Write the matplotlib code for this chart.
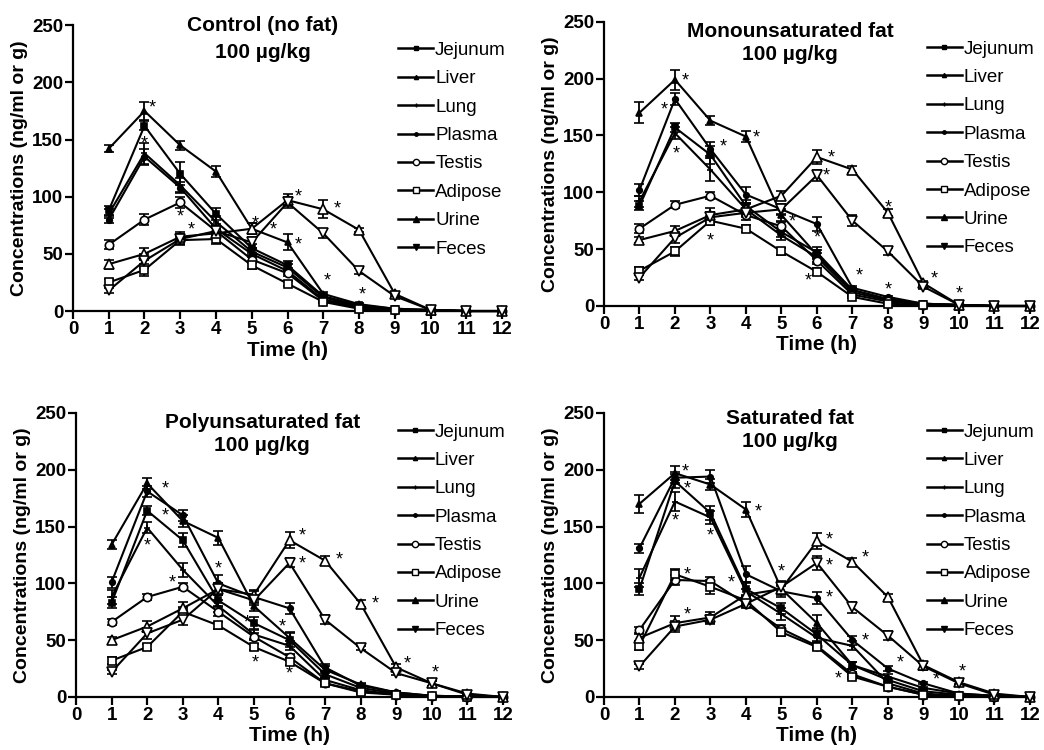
import matplotlib
matplotlib.use("Agg")
import matplotlib.pyplot as plt
from matplotlib.lines import Line2D

plt.rcParams['font.family'] = ['Liberation Sans', 'DejaVu Sans']

time_h = [1, 2, 3, 4, 5, 6, 7, 8, 9, 10, 11, 12]
x_ticks = [0, 1, 2, 3, 4, 5, 6, 7, 8, 9, 10, 11, 12]
y_ticks = [0, 50, 100, 150, 200, 250]
series_names = ["Jejunum", "Liver", "Lung", "Plasma", "Testis", "Adipose", "Urine", "Feces"]
panel_titles = [("Control (no fat)", "100 \u00b5g/kg"), ("Monounsaturated fat", "100 \u00b5g/kg"),
                ("Polyunsaturated fat", "100 \u00b5g/kg"), ("Saturated fat", "100 \u00b5g/kg")]

# ---- Control ----
control_jejunum = [88, 162, 120, 85, 55, 40, 13, 5, 2, 1, 0, 0]
control_liver = [142, 175, 145, 122, 72, 60, 15, 6, 2, 1, 0, 0]
control_lung = [85, 138, 110, 78, 52, 38, 12, 4, 1, 0.5, 0, 0]
control_plasma = [80, 135, 108, 72, 50, 35, 10, 4, 1, 0.5, 0, 0]
control_testis = [58, 80, 95, 70, 45, 33, 9, 3, 1, 0.5, 0, 0]
control_adipose = [25, 36, 62, 63, 40, 24, 8, 2, 1, 0, 0, 0]
control_urine = [41, 50, 65, 68, 72, 97, 89, 71, 15, 1, 0, 0]
control_feces = [18, 44, 63, 70, 60, 95, 68, 35, 13, 1, 0, 0]
control_err = [
    [4, 4, 10, 5, 4, 4, 2, 1, 1, 0, 0, 0],
    [3, 8, 4, 5, 5, 7, 2, 1, 0, 0, 0, 0],
    [4, 9, 6, 5, 3, 3, 2, 1, 0, 0, 0, 0],
    [3, 7, 5, 4, 3, 3, 2, 1, 0, 0, 0, 0],
    [4, 5, 5, 3, 3, 2, 1, 1, 0, 0, 0, 0],
    [3, 5, 4, 4, 3, 2, 1, 1, 0, 0, 0, 0],
    [4, 5, 4, 5, 5, 5, 8, 2, 2, 0, 0, 0],
    [2, 6, 4, 4, 5, 5, 4, 3, 2, 0, 0, 0],
]
control_stars = [(2.22, 178), (2.0, 146), (3.0, 82), (3.32, 71), (5.1, 76), (5.6, 71),
                 (6.3, 100), (6.3, 58), (7.4, 89), (7.1, 26), (8.1, 14)]

# ---- Monounsaturated ----
mono_jejunum = [88, 157, 133, 88, 65, 47, 14, 6, 2, 1, 0, 0]
mono_liver = [170, 199, 163, 149, 80, 45, 14, 6, 2, 1, 0, 0]
mono_lung = [92, 152, 120, 85, 62, 43, 12, 5, 1, 0.5, 0, 0]
mono_plasma = [102, 182, 138, 98, 85, 72, 16, 8, 2, 1, 0, 0]
mono_testis = [68, 89, 97, 80, 70, 40, 10, 4, 1, 0.5, 0, 0]
mono_adipose = [31, 48, 75, 68, 48, 30, 8, 2, 1, 0, 0, 0]
mono_urine = [58, 66, 80, 85, 97, 131, 120, 82, 20, 1, 0, 0]
mono_feces = [25, 60, 78, 82, 85, 115, 75, 48, 17, 1, 0, 0]
mono_err = [
    [4, 4, 8, 5, 4, 5, 2, 1, 0, 0, 0, 0],
    [9, 9, 4, 5, 5, 4, 2, 1, 0, 0, 0, 0],
    [5, 5, 10, 6, 4, 4, 2, 1, 0, 0, 0, 0],
    [5, 5, 6, 7, 5, 6, 2, 1, 0, 0, 0, 0],
    [4, 3, 3, 4, 4, 3, 1, 1, 0, 0, 0, 0],
    [3, 4, 4, 3, 3, 3, 1, 1, 0, 0, 0, 0],
    [3, 4, 6, 5, 4, 6, 3, 3, 2, 0, 0, 0],
    [2, 5, 5, 4, 4, 5, 5, 3, 2, 0, 0, 0],
]
mono_stars = [(2.3, 198), (1.7, 172), (2.05, 134), (3.35, 140), (4.3, 148), (5.3, 74),
              (6.4, 130), (6.25, 114), (6.0, 60), (5.75, 22), (3.0, 57), (7.2, 26),
              (8.0, 14), (9.3, 24), (10.0, 11), (8.0, 86)]

# ---- Polyunsaturated ----
poly_jejunum = [83, 164, 138, 85, 65, 50, 20, 8, 3, 1, 0.5, 0]
poly_liver = [134, 188, 155, 140, 80, 52, 24, 11, 4, 1, 0.5, 0]
poly_lung = [88, 149, 112, 80, 55, 45, 15, 6, 2, 1, 0, 0]
poly_plasma = [101, 181, 160, 100, 88, 78, 26, 10, 4, 1, 0.5, 0]
poly_testis = [66, 88, 97, 75, 53, 35, 12, 5, 2, 1, 0, 0]
poly_adipose = [32, 44, 75, 63, 44, 31, 12, 4, 2, 1, 0, 0]
poly_urine = [50, 62, 78, 95, 90, 138, 120, 82, 26, 12, 3, 0]
poly_feces = [22, 56, 68, 95, 85, 118, 68, 43, 21, 12, 2, 0]
poly_err = [
    [5, 4, 6, 5, 5, 6, 3, 1, 1, 0, 0, 0],
    [4, 5, 5, 6, 4, 5, 3, 1, 1, 0, 0, 0],
    [6, 5, 6, 5, 4, 4, 2, 1, 0, 0, 0, 0],
    [5, 5, 5, 7, 5, 5, 3, 1, 1, 0, 0, 0],
    [3, 3, 3, 4, 3, 3, 1, 1, 0, 0, 0, 0],
    [3, 3, 4, 3, 3, 3, 2, 1, 0, 0, 0, 0],
    [3, 5, 6, 5, 4, 7, 4, 3, 3, 2, 0, 0],
    [2, 5, 5, 5, 4, 4, 4, 2, 2, 2, 0, 0],
]
poly_stars = [(2.5, 183), (2.5, 159), (2.0, 133), (2.7, 100), (4.0, 113), (4.8, 65),
              (5.05, 30), (5.8, 62), (6.0, 20), (6.35, 142), (6.35, 117), (7.4, 121),
              (8.4, 82), (9.3, 29), (10.1, 21)]

# ---- Saturated ----
sat_jejunum = [95, 190, 162, 95, 78, 55, 28, 15, 5, 2, 1, 0]
sat_liver = [170, 197, 187, 165, 95, 65, 28, 18, 8, 3, 1, 0]
sat_lung = [105, 172, 158, 93, 73, 52, 45, 12, 3, 1, 0.5, 0]
sat_plasma = [131, 193, 194, 108, 93, 87, 50, 25, 12, 3, 1, 0]
sat_testis = [59, 103, 102, 82, 60, 45, 20, 9, 2, 1, 0, 0]
sat_adipose = [45, 108, 97, 85, 57, 44, 18, 9, 2, 1, 0, 0]
sat_urine = [52, 65, 70, 90, 95, 137, 119, 88, 28, 13, 3, 0]
sat_feces = [27, 62, 68, 82, 97, 118, 79, 54, 27, 12, 2, 0]
sat_err = [
    [5, 6, 6, 5, 5, 6, 3, 2, 1, 0, 0, 0],
    [8, 6, 5, 7, 5, 7, 3, 2, 1, 0, 0, 0],
    [8, 8, 6, 8, 5, 8, 4, 2, 1, 0, 0, 0],
    [4, 5, 6, 7, 5, 5, 4, 2, 1, 0, 0, 0],
    [3, 4, 4, 3, 3, 3, 2, 1, 0, 0, 0, 0],
    [4, 5, 6, 4, 3, 3, 2, 1, 0, 0, 0, 0],
    [3, 6, 5, 5, 4, 7, 3, 3, 3, 2, 0, 0],
    [2, 5, 4, 4, 5, 6, 5, 4, 3, 2, 0, 0],
]
sat_stars = [(2.3, 198), (2.35, 183), (2.0, 155), (3.0, 142), (2.35, 107), (3.6, 100),
             (2.35, 72), (4.35, 163), (5.0, 110), (6.35, 138), (6.35, 115), (6.35, 87),
             (7.35, 122), (7.35, 49), (8.35, 30), (9.35, 15), (6.6, 16), (10.1, 22)]

panels = [
    ([control_jejunum, control_liver, control_lung, control_plasma, control_testis,
      control_adipose, control_urine, control_feces], control_err, control_stars),
    ([mono_jejunum, mono_liver, mono_lung, mono_plasma, mono_testis,
      mono_adipose, mono_urine, mono_feces], mono_err, mono_stars),
    ([poly_jejunum, poly_liver, poly_lung, poly_plasma, poly_testis,
      poly_adipose, poly_urine, poly_feces], poly_err, poly_stars),
    ([sat_jejunum, sat_liver, sat_lung, sat_plasma, sat_testis,
      sat_adipose, sat_urine, sat_feces], sat_err, sat_stars),
]

plot_styles = [('s', 4, 'k'), ('^', 4, 'k'), ('+', 4, 'k'), ('o', 4, 'k'),
               ('o', 6, 'white'), ('s', 6, 'white'), ('^', 7, 'white'), ('v', 7, 'white')]
legend_styles = [('s', 3, 'k'), ('^', 3, 'k'), ('+', 3, 'k'), ('o', 2.5, 'k'),
                 ('o', 4.5, 'white'), ('s', 4.5, 'white'), ('^', 4.5, 'k'), ('v', 4.5, 'k')]

axes_pos = [
    [0.0699, 0.5853, 0.411, 0.381],
    [0.5785, 0.592, 0.408, 0.379],
    [0.0728, 0.0707, 0.409, 0.3787],
    [0.5785, 0.0707, 0.408, 0.3787],
]
title_x = [0.443, 0.437, 0.436, 0.437]
title_y = [(1.0, 0.906), (0.965, 0.884), (0.968, 0.887), (0.982, 0.898)]
legend_anchor = [(0.758, 0.942), (0.758, 0.934), (0.754, 0.963), (0.758, 0.963)]

fig = plt.figure(figsize=(10.44, 7.5), dpi=100)

for i, (data, errs, stars) in enumerate(panels):
    ax = fig.add_axes(axes_pos[i])
    for j, vals in enumerate(data):
        m, ms, fc = plot_styles[j]
        ax.errorbar(time_h, vals, yerr=errs[j], color='k', lw=1.5, marker=m, ms=ms,
                    mfc=fc, mec='k', mew=1.2, capsize=3.5, elinewidth=1.3,
                    capthick=1.3, clip_on=False, zorder=3)
    for (sx, sy) in stars:
        ax.text(sx, sy, '*', ha='center', va='center', fontsize=13, color='k')
    ax.set_xlim(0, 12)
    ax.set_ylim(0, 250)
    ax.set_xticks(x_ticks)
    ax.set_yticks(y_ticks)
    ax.spines['top'].set_visible(False)
    ax.spines['right'].set_visible(False)
    ax.spines['left'].set_linewidth(1.6)
    ax.spines['bottom'].set_linewidth(1.6)
    ax.tick_params(direction='out', length=6, width=1.6, labelsize=13.5, pad=1)
    for lab in ax.get_xticklabels() + ax.get_yticklabels():
        lab.set_fontweight('bold')
    ax.set_xlabel('Time (h)', fontsize=15, fontweight='bold', labelpad=2)
    ax.set_ylabel('Concentrations (ng/ml or g)', fontsize=14, fontweight='bold', labelpad=3)
    t1, t2 = panel_titles[i]
    ax.text(title_x[i], title_y[i][0], t1, transform=ax.transAxes, ha='center', va='center',
            fontsize=15, fontweight='bold')
    ax.text(title_x[i], title_y[i][1], t2, transform=ax.transAxes, ha='center', va='center',
            fontsize=15, fontweight='bold')
    handles = []
    for j, name in enumerate(series_names):
        m, ms, fc = legend_styles[j]
        handles.append(Line2D([0], [0], color='k', lw=1.8, marker=m, ms=ms,
                              mfc=fc, mec='k', mew=1.0, label=name))
    ax.legend(handles=handles, loc='upper left', bbox_to_anchor=legend_anchor[i],
              frameon=False, fontsize=13.5, handlelength=1.87, handletextpad=0.1,
              labelspacing=0.6, borderaxespad=0, borderpad=0)

fig.savefig('out.png', dpi=100)
